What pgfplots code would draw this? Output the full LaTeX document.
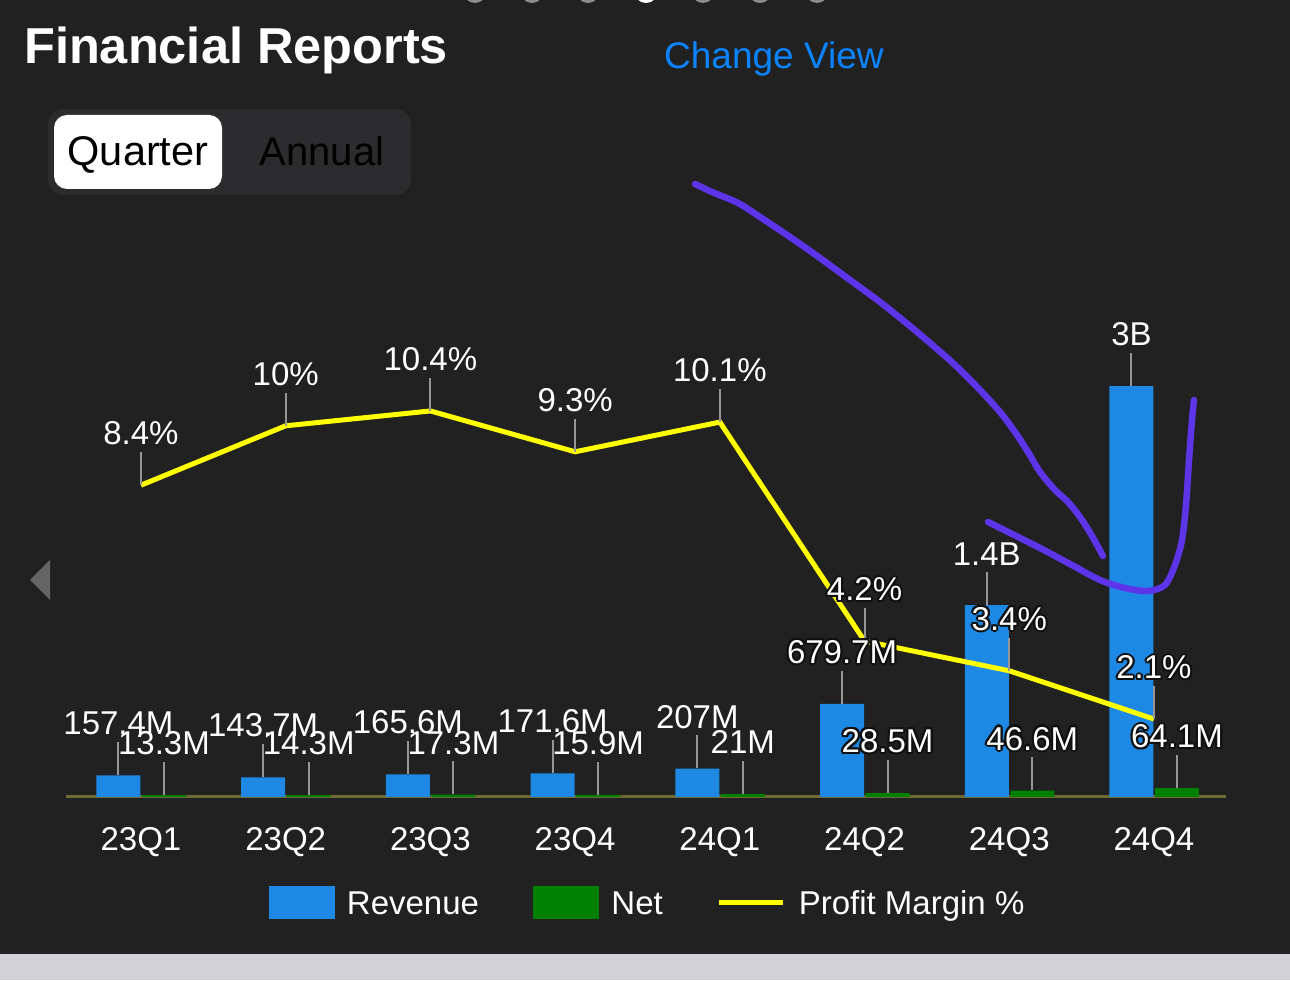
\documentclass[border=0pt]{standalone}
\usepackage{pgfplots}
\pgfplotsset{compat=1.18}
\usepackage{fontspec}
\setmainfont{Liberation Sans}
\definecolor{bg}{RGB}{33,33,33}
\definecolor{revblue}{RGB}{30,136,229}
\definecolor{netgreen}{RGB}{0,128,0}
\definecolor{marg}{RGB}{255,255,0}
\definecolor{leadc}{RGB}{150,150,150}
\definecolor{axolive}{RGB}{110,106,52}
\definecolor{segbg}{RGB}{44,44,46}
\definecolor{linkblue}{RGB}{10,132,255}
\definecolor{strip}{RGB}{209,209,214}
\definecolor{dotgrey}{RGB}{140,140,140}
\definecolor{arrowgrey}{RGB}{100,100,100}
\definecolor{scribble}{RGB}{93,52,232}
\definecolor{olc}{RGB}{16,16,16}

\newcommand\lblfont{\fontsize{33}{40}\selectfont}
\newcommand\olcopy[2]{\rlap{\kern#1\smash{\raisebox{#2}{\textcolor{olc}{\copy0}}}}}
\newcommand\olt[1]{{\setbox0\hbox{#1}%
  \olcopy{2.2pt}{0pt}\olcopy{-2.2pt}{0pt}\olcopy{0pt}{2.2pt}\olcopy{0pt}{-2.2pt}%
  \olcopy{1.6pt}{1.6pt}\olcopy{-1.6pt}{1.6pt}\olcopy{1.6pt}{-1.6pt}\olcopy{-1.6pt}{-1.6pt}%
  \box0}}
% label with leader line (plain / outlined)
\newcommand\lbl[1]{\vbox{\offinterlineskip\halign{\hfil##\hfil\cr#1\cr\noalign{\kern7pt}\textcolor{leadc}{\rule{2pt}{33pt}}\cr}}}
\newcommand\lblo[1]{\lbl{\olt{#1}}}

\pgfplotsset{
  common/.style={
    at={(66pt,183pt)}, anchor=south west,
    scale only axis, width=1160pt, height=500pt,
    xmin=-0.518, xmax=7.498, ymin=0,
    enlargelimits=false, clip=false,
  },
  lblstyle/.style={
    point meta=explicit symbolic,
    every node near coord/.append style={anchor=south, inner sep=0pt, font=\lblfont, text=white},
  },
  plain/.style={nodes near coords={\lbl{\pgfplotspointmeta}}},
  outl/.style={nodes near coords={\lblo{\pgfplotspointmeta}}},
}

\begin{document}
\begin{tikzpicture}[x=1pt,y=1pt]
\useasboundingbox (0,0) rectangle (1290,980);
\clip (0,0) rectangle (1290,980);
\fill[bg] (0,0) rectangle (1290,980);

\begin{scope}[yshift=980pt, yscale=-1]
  \fill[strip] (0,954) rectangle (1290,980);
  \foreach \xx in {475,532,588,703,760,817} \fill[dotgrey] (\xx,-9) circle[radius=12];
  \fill[white] (646,-9) circle[radius=12];
  \node[anchor=base west, inner sep=0pt, text=white, font=\fontsize{50.5}{60}\selectfont\bfseries] at (24,64) {Financial Reports};
  \node[anchor=base west, inner sep=0pt, text=linkblue, font=\fontsize{37}{44}\selectfont] at (664,69) {Change View};
  \fill[segbg, rounded corners=16pt] (48,109) rectangle (411,195);
  \fill[white, rounded corners=13pt] (54,115) rectangle (222,189);
  \node[anchor=base, inner sep=0pt, text=black, font=\fontsize{41.5}{50}\selectfont] at (138,166) {Quarter};
  \node[anchor=base, inner sep=0pt, text=black, font=\fontsize{40}{48}\selectfont] at (322,166) {Annual};
  \fill[arrowgrey] (50,560) -- (30,580) -- (50,600) -- cycle;
\end{scope}

% Bars
\begin{axis}[common, ymax=3650,
  axis x line*=bottom, axis y line=none,
  x axis line style={draw=axolive, line width=3pt, -},
  xtick={0,1,2,3,4,5,6,7},
  xticklabels={23Q1,23Q2,23Q3,23Q4,24Q1,24Q2,24Q3,24Q4},
  major tick length=0pt,
  xticklabel style={font=\lblfont, text=white, anchor=base, yshift=-53pt, inner sep=0pt},
  ybar, bar width=44pt]
\addplot[fill=revblue, draw=none, bar shift=-22.5pt] coordinates
  {(0,157.4) (1,143.7) (2,165.6) (3,171.6) (4,207) (5,679.7) (6,1400) (7,3000)};
\addplot[fill=netgreen, draw=none, bar shift=23pt] coordinates
  {(0,13.3) (1,14.3) (2,17.3) (3,15.9) (4,21) (5,28.5) (6,46.6) (7,64.1)};
\end{axis}

% Profit margin line
\begin{axis}[common, ymax=13.47, axis lines=none, lblstyle,
  legend columns=-1,
  legend style={draw=none, fill=none, text=white, font=\lblfont,
    at={(0.5004,-0.21)}, anchor=center, inner sep=0pt,
    /tikz/every even column/.append style={column sep=54pt},
    /tikz/every odd column/.append style={column sep=13pt},
    nodes={inner sep=0pt, text height=24pt, text depth=0pt}}]
\addlegendimage{legend image code/.code={\fill[revblue] (0pt,-16pt) rectangle (65pt,16pt);}}
\addlegendentry{Revenue}
\addlegendimage{legend image code/.code={\fill[netgreen] (0pt,-16pt) rectangle (65pt,16pt);}}
\addlegendentry{Net}
\addplot[marg, line width=5pt, mark=none,
  legend image code/.code={\draw[marg, line width=5pt] (0pt,0pt) -- (64pt,0pt);}] coordinates
  {(0,8.4) (1,10) (2,10.4) (3,9.3) (4,10.1) (5,4.2) (6,3.4) (7,2.1)};
\addlegendentry{Profit Margin \%}
\addplot[draw=none, mark=none, forget plot, plain] coordinates
  {(0,8.4)[8.4\%] (1,10)[10\%] (2,10.4)[10.4\%] (3,9.3)[9.3\%] (4,10.1)[10.1\%]};
\addplot[draw=none, mark=none, forget plot, outl] coordinates
  {(5,4.2)[4.2\%] (6,3.4)[3.4\%] (7,2.1)[2.1\%]};
\end{axis}

% Revenue / Net labels
\begin{axis}[common, ymax=3650, axis lines=none, ybar, bar width=44pt, lblstyle]
\addplot[draw=none, fill=none, bar shift=-22.5pt, plain] coordinates
  {(0,157.4)[157.4M] (1,143.7)[143.7M] (2,165.6)[165.6M] (3,171.6)[171.6M] (4,207)[207M] (6,1400)[1.4B] (7,3000)[3B]};
\addplot[draw=none, fill=none, bar shift=-22.5pt, outl] coordinates
  {(5,679.7)[679.7M]};
\addplot[draw=none, fill=none, bar shift=23pt, plain] coordinates
  {(0,13.3)[13.3M] (1,14.3)[14.3M] (2,17.3)[17.3M] (3,15.9)[15.9M] (4,21)[21M]};
\addplot[draw=none, fill=none, bar shift=23pt, outl] coordinates
  {(5,28.5)[28.5M] (6,46.6)[46.6M] (7,64.1)[64.1M]};
\end{axis}

% hand-drawn annotation
\begin{scope}[yshift=980pt, yscale=-1]
  \draw[scribble, line width=6.5pt, line cap=round, line join=round] plot[smooth, tension=0.5] coordinates
    {(695,184) (712,192) (738,203) (760,217) (790,237) (820,258) (850,280) (880,302) (905,322) (930,343) (955,365) (980,390) (1000,412) (1015,432) (1028,452) (1040,472) (1055,490) (1068,502) (1080,517) (1092,536) (1103,556)};
  \draw[scribble, line width=6.5pt, line cap=round, line join=round] plot[smooth, tension=0.5] coordinates
    {(988,522) (1010,533) (1040,548) (1070,564) (1100,580) (1125,588) (1148,591) (1165,585) (1175,565) (1182,540) (1186,505) (1189,460) (1192,420) (1194,400)};
\end{scope}
\end{tikzpicture}
\end{document}
